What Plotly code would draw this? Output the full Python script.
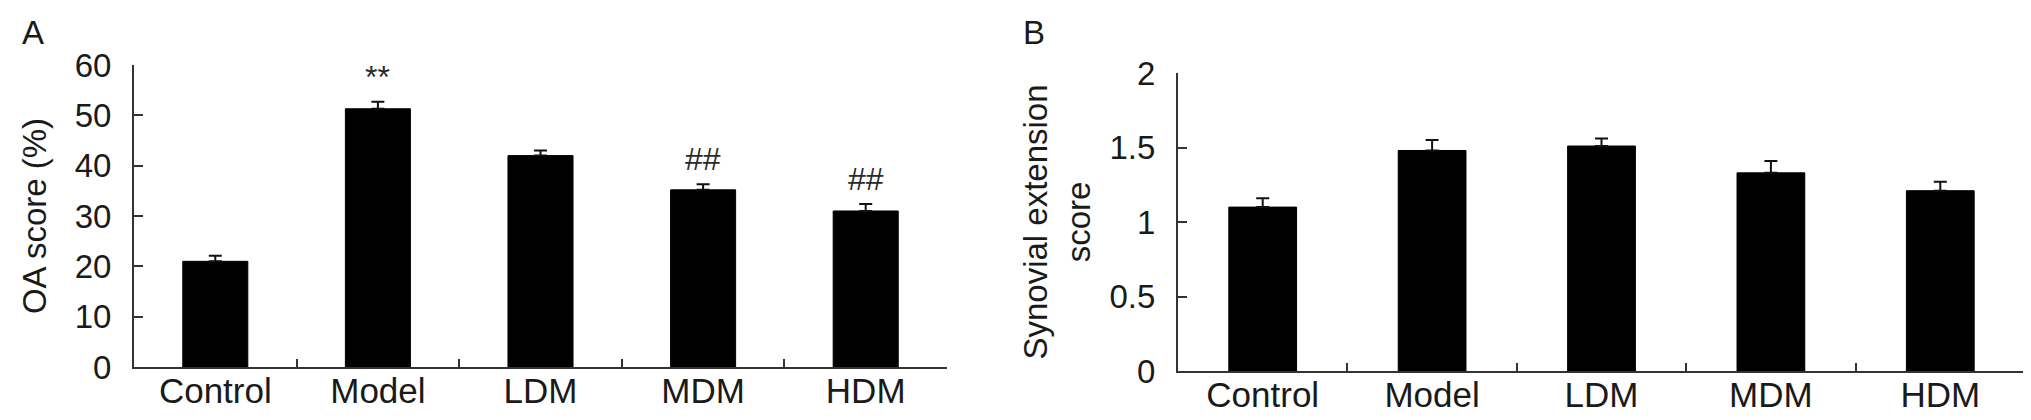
import plotly.graph_objects as go

groups = ["Control", "Model", "LDM", "MDM", "HDM"]
oa_score = [21.0, 51.3, 42.0, 35.2, 31.0]
oa_err = [1.1, 1.4, 1.0, 1.1, 1.4]
oa_marks = ["", "**", "", "##", "##"]
syn_score = [1.10, 1.48, 1.51, 1.33, 1.21]
syn_err = [0.06, 0.07, 0.05, 0.08, 0.06]
a_ticks = [0, 10, 20, 30, 40, 50, 60]
b_ticks = [0, 0.5, 1, 1.5, 2]
b_ticklabels = ["0", "0.5", "1", "1.5", "2"]

FONT = "Arial, Liberation Sans, Helvetica, sans-serif"
TXT = "#1a1a1a"
LINE = "#333333"
W, H = 2031, 420

fig = go.Figure()

for vals, errs, xa, ya in [(oa_score, oa_err, "x", "y"), (syn_score, syn_err, "x2", "y2")]:
    fig.add_trace(go.Bar(
        x=groups, y=vals, xaxis=xa, yaxis=ya,
        marker=dict(color="black", line=dict(color="black", width=1)),
        error_y=dict(type="data", array=errs, arrayminus=[0] * len(errs), symmetric=False,
                     color="#111111", thickness=2, width=6.5),
        showlegend=False,
    ))

for g, v, e, m in zip(groups, oa_score, oa_err, oa_marks):
    if m:
        fig.add_annotation(x=g, y=v + e, xref="x", yref="y", text=m, showarrow=False,
                           yanchor="middle", yshift=25,
                           font=dict(family=FONT, size=32, color="#2a2a2a"))

common_x = dict(type="category", showline=True, linecolor=LINE, linewidth=2,
                ticks="inside", tickson="boundaries", ticklen=8, tickwidth=2, tickcolor=LINE,
                tickfont=dict(family=FONT, size=35, color=TXT), ticklabelstandoff=-8,
                showgrid=False, zeroline=False, automargin=False)
common_y = dict(showline=True, linecolor=LINE, linewidth=2,
                ticks="inside", ticklen=9, tickwidth=2, tickcolor=LINE,
                tickfont=dict(family=FONT, size=33, color=TXT), ticklabelstandoff=14,
                showgrid=False, zeroline=False, automargin=False)

fig.update_layout(
    width=W, height=H, margin=dict(l=0, r=0, t=0, b=0),
    paper_bgcolor="white", plot_bgcolor="white",
    bargap=0.6,
    xaxis=dict(domain=[126 / W, 939 / W], anchor="y", **common_x),
    yaxis=dict(domain=[(H - 359) / H, (H - 57) / H], anchor="x", range=[0, 60],
               tickvals=a_ticks,
               title=dict(text="OA score (%)", standoff=18, font=dict(family=FONT, size=33, color=TXT)),
               **common_y),
    xaxis2=dict(domain=[1170 / W, 2017 / W], anchor="y2", **common_x),
    yaxis2=dict(domain=[(H - 363) / H, (H - 65) / H], anchor="x2", range=[0, 2],
                tickvals=b_ticks, ticktext=b_ticklabels,
                title=dict(text="Synovial extension<br>score", standoff=9,
                           font=dict(family=FONT, size=33, color=TXT)),
                **common_y),
)

fig.add_annotation(x=12 / W, y=1 - 24 / H, xref="paper", yref="paper", text="A", showarrow=False,
                   xanchor="left", yanchor="middle", font=dict(family=FONT, size=33, color=TXT))
fig.add_annotation(x=1013 / W, y=1 - 24 / H, xref="paper", yref="paper", text="B", showarrow=False,
                   xanchor="left", yanchor="middle", font=dict(family=FONT, size=33, color=TXT))

fig.write_html("out.html")
